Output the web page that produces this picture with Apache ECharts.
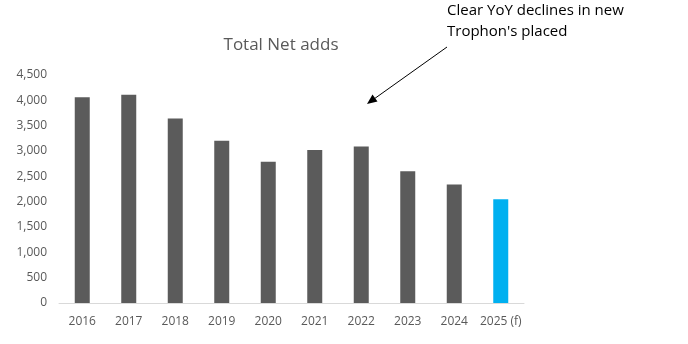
<!DOCTYPE html>
<html>
<head>
<meta charset="utf-8">
<script src="https://cdn.jsdelivr.net/npm/echarts@6/dist/echarts.min.js"></script>
<style>
  html, body { margin: 0; padding: 0; background: #fff; }
  #chart { width: 688px; height: 344px; }
</style>
</head>
<body>
<div id="chart"></div>
<script>
// Yearly net adds; the last year is a forecast
const years = ['2016', '2017', '2018', '2019', '2020', '2021', '2022', '2023', '2024', '2025 (f)'];
const netAdds = [4060, 4110, 3640, 3200, 2790, 3020, 3090, 2600, 2340, 2050];
const forecastFlags = [false, false, false, false, false, false, false, false, false, true];
const yTicks = { min: 0, max: 4500, step: 500 };

const chart = echarts.init(document.getElementById('chart'), null, { renderer: 'canvas' });

const font = '"Open Sans", "Liberation Sans", sans-serif';

chart.setOption({
  animation: false,
  title: {
    text: 'Total Net adds',
    left: 276,
    top: 32,
    textAlign: 'center',
    textStyle: { fontFamily: font, fontSize: 17, fontWeight: 'normal', color: '#595959' }
  },
  grid: { left: 59, right: 164, top: 75, bottom: 41 },
  xAxis: {
    type: 'category',
    data: years,
    axisLine: { lineStyle: { color: '#d9d9d9', width: 1 } },
    axisTick: { show: false },
    axisLabel: { interval: 0, color: '#595959', fontFamily: font, fontSize: 12, margin: 13 }
  },
  yAxis: {
    type: 'value',
    min: yTicks.min,
    max: yTicks.max,
    interval: yTicks.step,
    splitLine: { show: false },
    axisLine: { show: false },
    axisTick: { show: false },
    axisLabel: {
      color: '#595959', fontFamily: font, fontSize: 12, margin: 12,
      formatter: v => v.toLocaleString('en-US')
    }
  },
  series: [{
    type: 'bar',
    barWidth: 15,
    data: netAdds.map((v, i) => ({
      value: v,
      itemStyle: { color: forecastFlags[i] ? '#00b0f0' : '#5b5b5b' }
    }))
  }],
  graphic: [
    {
      type: 'text',
      left: 447,
      top: 0,
      style: {
        text: "Clear YoY declines in new\nTrophon's placed",
        fill: '#000',
        font: '15px ' + font,
        lineHeight: 21
      }
    },
    {
      type: 'line',
      shape: { x1: 447, y1: 47, x2: 374, y2: 99 },
      style: { stroke: '#000', lineWidth: 1 }
    },
    {
      type: 'polygon',
      shape: { points: [[367, 104], [372.5, 94.5], [377.5, 101.5]] },
      style: { fill: '#000' }
    }
  ]
});
</script>
</body>
</html>
